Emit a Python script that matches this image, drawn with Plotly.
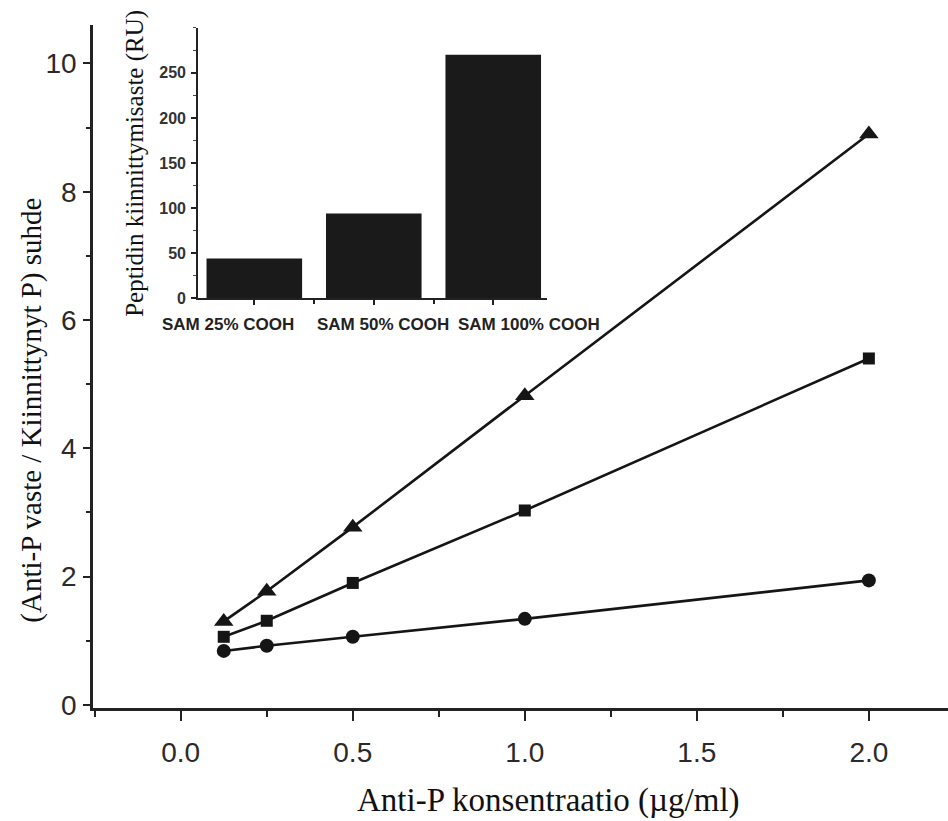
import plotly.graph_objects as go

# ---- main chart data ----
conc = [0.125, 0.25, 0.5, 1.0, 2.0]
ratio_100 = [1.30, 1.77, 2.77, 4.82, 8.90]   # triangles
ratio_50 = [1.06, 1.31, 1.90, 3.03, 5.40]    # squares
ratio_25 = [0.84, 0.92, 1.06, 1.34, 1.94]    # circles

x_ticks = [0.0, 0.5, 1.0, 1.5, 2.0]
x_ticktext = ["0.0", "0.5", "1.0", "1.5", "2.0"]
y_ticks = [0, 2, 4, 6, 8, 10]

# ---- inset data ----
categories = ["SAM 25% COOH", "SAM 50% COOH", "SAM 100% COOH"]
binding_ru = [44, 94, 270]
inset_yticks = [0, 50, 100, 150, 200, 250]

x_title = "Anti-P konsentraatio (µg/ml)"
y_title = "(Anti-P vaste / Kiinnittynyt P) suhde"
inset_y_title = "Peptidin kiinnittymisaste (RU)"

fig = go.Figure()

line_style = dict(color="#151515", width=2.6)
for yvals, sym, size in [(ratio_100, "triangle-up", 17),
                         (ratio_50, "square", 12),
                         (ratio_25, "circle", 14)]:
    fig.add_trace(go.Scatter(
        x=conc, y=yvals, mode="lines+markers",
        line=line_style,
        marker=dict(symbol=sym, size=size, color="#151515"),
        showlegend=False, xaxis="x", yaxis="y"))

fig.add_trace(go.Bar(
    x=list(range(len(categories))), y=binding_ru,
    width=0.8, marker=dict(color="#1a1a1a", line=dict(width=0)),
    showlegend=False, xaxis="x2", yaxis="y2"))

# category labels for inset (placed under bars, as in the original)
label_shift = [-0.22, 0.08, 0.30]
for i, (cat, sh) in enumerate(zip(categories, label_shift)):
    fig.add_annotation(
        x=i + sh, y=0, xref="x2", yref="y2 domain",
        yanchor="top", xanchor="center", showarrow=False,
        text=cat, yshift=-15,
        font=dict(family="Liberation Sans", size=17, color="#222222", weight=700))

# axis titles
fig.add_annotation(x=0.533, y=-0.1347, xref="paper", yref="paper",
                   text=x_title, showarrow=False, xanchor="center", yanchor="middle",
                   font=dict(family="Liberation Serif", size=33, color="#111"))
fig.add_annotation(x=-0.072, y=0.436, xref="paper", yref="paper",
                   text=y_title, showarrow=False, textangle=-90,
                   xanchor="center", yanchor="middle",
                   font=dict(family="Liberation Serif", size=29, color="#111"))
fig.add_annotation(x=0.049, y=0.798, xref="paper", yref="paper",
                   text=inset_y_title, showarrow=False, textangle=-90,
                   xanchor="center", yanchor="middle",
                   font=dict(family="Liberation Serif", size=25, color="#111"))

fig.update_layout(
    width=948, height=821,
    margin=dict(l=93, r=0, t=25, b=113),
    paper_bgcolor="white", plot_bgcolor="white",
    font=dict(family="Liberation Sans", color="#222222"),
    xaxis=dict(
        range=[-0.255, 2.23], domain=[0, 1],
        tickvals=x_ticks, ticktext=x_ticktext,
        ticks="outside", ticklen=10, tickwidth=2, tickcolor="#222",
        minor=dict(dtick=0.25, tick0=0, ticks="outside", ticklen=6, tickwidth=2, tickcolor="#222"),
        showline=True, linecolor="#222", linewidth=2.5,
        showgrid=False, zeroline=False,
        tickfont=dict(size=28, family="Liberation Sans", color="#2a2a2a"),
        ticklabelstandoff=8,
    ),
    yaxis=dict(
        range=[-0.05, 10.6], domain=[0, 1],
        tickvals=y_ticks,
        ticks="outside", ticklen=7, tickwidth=2, tickcolor="#222",
        minor=dict(dtick=1, tick0=0, ticks="outside", ticklen=4, tickwidth=2, tickcolor="#222"),
        showline=True, linecolor="#222", linewidth=2.5,
        showgrid=False, zeroline=False,
        tickfont=dict(size=28, family="Liberation Sans", color="#2a2a2a"),
        ticklabelstandoff=1,
    ),
    xaxis2=dict(
        domain=[0.123, 0.531], anchor="y2",
        range=[-0.47, 2.45],
        tickvals=[0, 1, 2], showticklabels=False,
        ticks="outside", ticklen=5, tickwidth=1.5, tickcolor="#222",
        minor=dict(dtick=0.5, tick0=0, ticks="outside", ticklen=4, tickwidth=1.5, tickcolor="#222"),
        showline=True, linecolor="#222", linewidth=2,
        showgrid=False, zeroline=False,
    ),
    yaxis2=dict(
        domain=[0.600, 0.996], anchor="x2",
        range=[0, 300],
        tickvals=inset_yticks,
        ticks="outside", ticklen=5, tickwidth=1.5, tickcolor="#222",
        minor=dict(dtick=25, tick0=0, ticks="outside", ticklen=3, tickwidth=1, tickcolor="#444"),
        showline=True, linecolor="#222", linewidth=2,
        showgrid=False, zeroline=False,
        tickfont=dict(size=16, family="Liberation Sans", color="#333", weight=700),
        ticklabelstandoff=2,
    ),
)

fig.write_html("out.html")
